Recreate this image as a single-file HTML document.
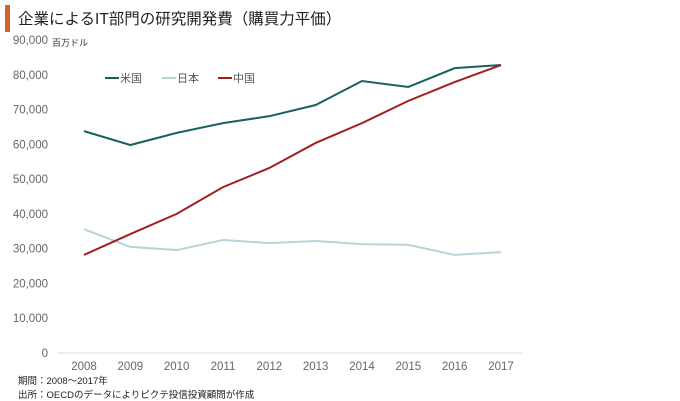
<!DOCTYPE html>
<html><head><meta charset="utf-8"><style>
body{margin:0;background:#fff;width:680px;height:401px;overflow:hidden;font-family:"Liberation Sans","Noto Sans CJK JP",sans-serif}
</style></head><body>
<svg width="680" height="401" style="position:absolute;left:0;top:0">
<rect x="5" y="5" width="5" height="27" fill="#d2642a"/>
<text x="18" y="24" font-size="15.5" fill="#222" font-family="Liberation Sans, Noto Sans CJK JP, sans-serif">企業によるIT部門の研究開発費（購買力平価）</text>
<text x="52" y="46" font-size="9" fill="#333" font-family="Noto Sans CJK JP, sans-serif">百万ドル</text>
<g id="yaxis"></g><g id="xaxis"></g><g id="lines"></g>
<line x1="58" y1="353" x2="522" y2="353" stroke="#ddd"/>
<g font-size="11" fill="#555" font-family="Noto Sans CJK JP, sans-serif">
<line x1="105" y1="78" x2="119" y2="78" stroke="#17635e" stroke-width="2"/><text x="120" y="82">米国</text>
<line x1="162" y1="78" x2="176" y2="78" stroke="#b9d3d8" stroke-width="2"/><text x="177" y="82">日本</text>
<line x1="218" y1="78" x2="232" y2="78" stroke="#a0201e" stroke-width="2"/><text x="233" y="82">中国</text>
</g>
<text x="18" y="384" font-size="9.5" fill="#222">期間：2008～2017年</text>
<text x="18" y="398" font-size="9.5" fill="#222">出所：OECDのデータによりピクテ投信投資顧問が作成</text>
</svg>
<script>
const years=[2008,2009,2010,2011,2012,2013,2014,2015,2016,2017];
const us=[63.8,59.8,63.3,66.1,68.1,71.3,78.2,76.5,81.9,82.8];
const japan=[35.6,30.5,29.6,32.5,31.6,32.2,31.3,31.1,28.2,29.0];
const china=[28.2,34.2,40.0,47.7,53.2,60.4,66.1,72.5,77.9,82.8];
const yTicks=[0,10,20,30,40,50,60,70,80,90];
const yTickLabels=["0","10,000","20,000","30,000","40,000","50,000","60,000","70,000","80,000","90,000"];
const NS="http://www.w3.org/2000/svg";
const xs=i=>84+i*(501-84)/(years.length-1);
const ys=v=>353-v*(313/90);
function mk(tag,attrs,parent){const e=document.createElementNS(NS,tag);for(const k in attrs)e.setAttribute(k,attrs[k]);document.getElementById(parent).appendChild(e);return e;}
yTicks.forEach((t,i)=>{const e=mk('text',{x:48,y:ys(t)+4,'text-anchor':'end','font-size':11.5,fill:'#666'},'yaxis');e.textContent=yTickLabels[i];

});
years.forEach((y,i)=>{const e=mk('text',{x:xs(i),y:370,'text-anchor':'middle','font-size':11.5,fill:'#666'},'xaxis');e.textContent=y;

});
[[japan,'#b9d3d8','japan-line'],[us,'#17635e','us-line'],[china,'#a0201e','china-line']].forEach(([d,c,n])=>{
const p=mk('polyline',{points:d.map((v,i)=>xs(i)+','+ys(v)).join(' '),fill:'none',stroke:c,'stroke-width':2},'lines');

});
</script>
</body></html>
